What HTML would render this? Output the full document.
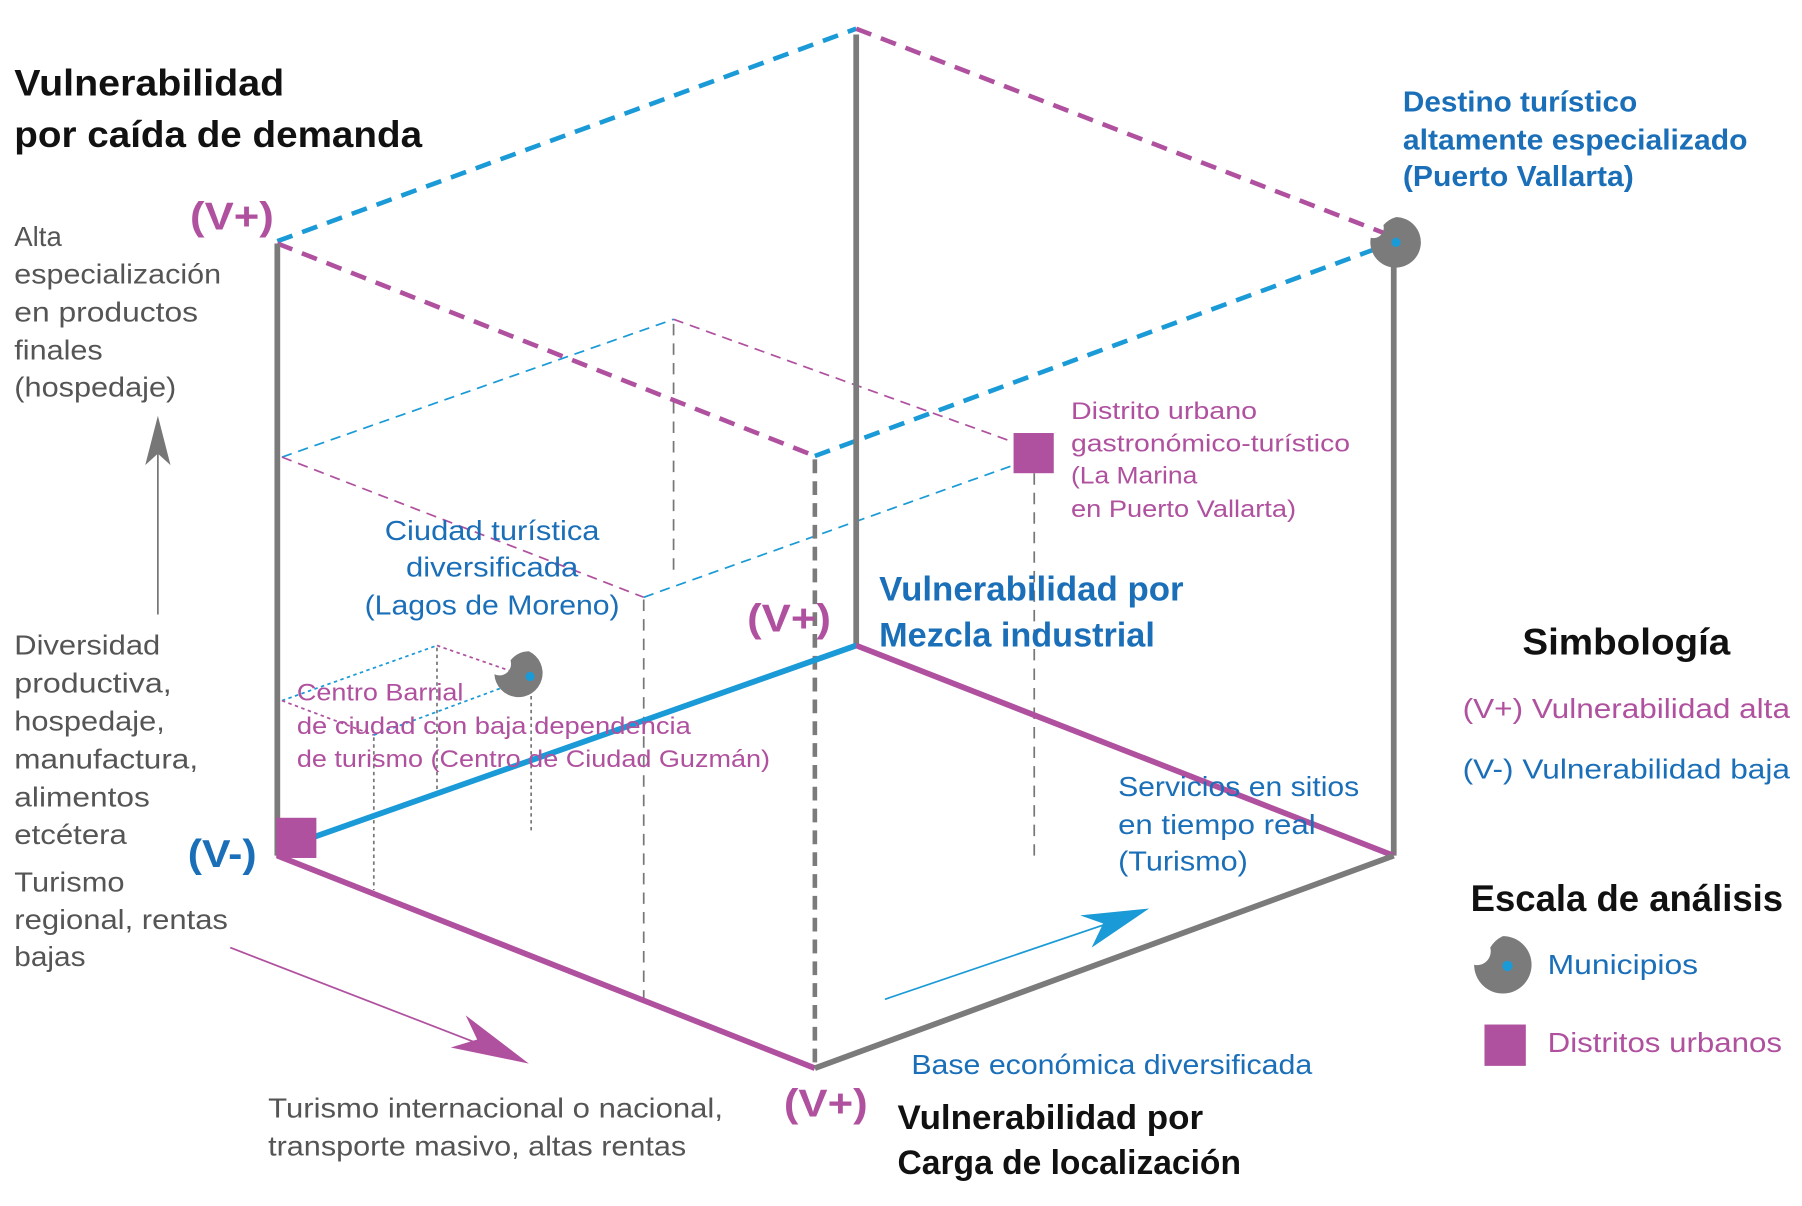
<!DOCTYPE html>
<html><head><meta charset="utf-8"><style>
html,body{margin:0;padding:0;background:#fff;}
svg{display:block;}
text{font-family:"Liberation Sans",sans-serif;}
.g{fill:#555;font-size:24px;}
.b{fill:#1a6fb8;font-size:24px;}
.m{fill:#b0519f;}
.k{fill:#111;font-weight:bold;}
</style></head><body>
<svg width="1802" height="1206" viewBox="0 0 1568 1050" xmlns="http://www.w3.org/2000/svg">
<g fill="none" stroke-linecap="butt">
<line x1="245" y1="398" x2="586" y2="278" stroke="#1a9ad6" stroke-width="1.5" stroke-dasharray="9,6"/>
<line x1="586" y1="278" x2="882" y2="385" stroke="#b0519f" stroke-width="1.5" stroke-dasharray="9,6"/>
<line x1="245" y1="398" x2="560" y2="520" stroke="#b0519f" stroke-width="1.5" stroke-dasharray="9,6"/>
<line x1="560" y1="520" x2="882" y2="405" stroke="#1a9ad6" stroke-width="1.5" stroke-dasharray="9,6"/>
<line x1="586" y1="282" x2="586" y2="500" stroke="#777" stroke-width="1.5" stroke-dasharray="10,7"/>
<line x1="560" y1="522" x2="560" y2="870" stroke="#777" stroke-width="1.5" stroke-dasharray="10,7"/>
<line x1="900" y1="412" x2="900" y2="745" stroke="#777" stroke-width="1.5" stroke-dasharray="10,7"/>
<line x1="245" y1="610" x2="380" y2="562" stroke="#1a9ad6" stroke-width="1.5" stroke-dasharray="3,3"/>
<line x1="380" y1="562" x2="455" y2="588" stroke="#b0519f" stroke-width="1.5" stroke-dasharray="3,3"/>
<line x1="245" y1="610" x2="325" y2="640" stroke="#b0519f" stroke-width="1.5" stroke-dasharray="3,3"/>
<line x1="325" y1="640" x2="455" y2="592" stroke="#1a9ad6" stroke-width="1.5" stroke-dasharray="3,3"/>
<line x1="325" y1="642" x2="325" y2="775" stroke="#777" stroke-width="1.5" stroke-dasharray="3,3"/>
<line x1="380" y1="564" x2="380" y2="690" stroke="#777" stroke-width="1.5" stroke-dasharray="3,3"/>
<line x1="462" y1="600" x2="462" y2="725" stroke="#777" stroke-width="1.5" stroke-dasharray="3,3"/>
<line x1="241" y1="210" x2="745" y2="25" stroke="#1a9ad6" stroke-width="4" stroke-dasharray="14,9"/>
<line x1="745" y1="25" x2="1210" y2="205" stroke="#b0519f" stroke-width="4" stroke-dasharray="14,9"/>
<line x1="241" y1="212" x2="709" y2="397" stroke="#b0519f" stroke-width="4" stroke-dasharray="14,9"/>
<line x1="709" y1="397" x2="1210" y2="212" stroke="#1a9ad6" stroke-width="4" stroke-dasharray="14,9"/>
<line x1="745" y1="30" x2="745" y2="562" stroke="#7b7b7b" stroke-width="5"/>
<line x1="241" y1="212" x2="241" y2="745" stroke="#7b7b7b" stroke-width="5"/>
<line x1="1213" y1="215" x2="1213" y2="745" stroke="#7b7b7b" stroke-width="5"/>
<line x1="709" y1="400" x2="709" y2="930" stroke="#7b7b7b" stroke-width="4" stroke-dasharray="12,7"/>
<line x1="241" y1="740" x2="745" y2="562" stroke="#1a9ad6" stroke-width="5"/>
<line x1="745" y1="562" x2="1213" y2="745" stroke="#b0519f" stroke-width="5"/>
<line x1="241" y1="745" x2="709" y2="930" stroke="#b0519f" stroke-width="5"/>
<line x1="709" y1="930" x2="1213" y2="745" stroke="#7b7b7b" stroke-width="5"/>
<line x1="137" y1="535" x2="137" y2="385" stroke="#777" stroke-width="1.5"/>
<line x1="200" y1="825" x2="430" y2="914" stroke="#b0519f" stroke-width="1.5"/>
<line x1="770" y1="870" x2="970" y2="802" stroke="#1a9ad6" stroke-width="1.5"/>
</g>
<polygon points="137,362 148,405 137,395 126,405" fill="#777"/>
<polygon points="460,926 405,884 415,905 392,912" fill="#b0519f"/>
<polygon points="1000,791 940,797 960,804 950,825" fill="#1a9ad6"/>
<path d="M1215,189 a22,22 0 1 1 -22,18 a9,9 0 0 0 11,-11 a22,22 0 0 1 11,-7z" fill="#7b7b7b"/>
<circle cx="1215" cy="211" r="4" fill="#1a9ad6"/>
<path d="M460,567 a21,21 0 1 1 -30,20 a10,10 0 0 0 14,-12 a21,21 0 0 1 16,-8z" fill="#7b7b7b"/>
<circle cx="461" cy="589" r="4" fill="#1a9ad6"/>
<rect x="240" y="712" width="35" height="35" fill="#b0519f"/>
<rect x="882" y="377" width="35" height="35" fill="#b0519f"/>
<path d="M1308,815 a25,25 0 1 1 -25,25 a12,12 0 0 0 14,-15 a25,25 0 0 1 11,-10z" fill="#7b7b7b"/>
<circle cx="1312" cy="841" r="4.5" fill="#1a9ad6"/>
<rect x="1292" y="892" width="36" height="36" fill="#b0519f"/>
<text class="k" x="12" y="83" font-size="32" textLength="235" lengthAdjust="spacingAndGlyphs">Vulnerabilidad</text>
<text class="k" x="12" y="128" font-size="32" textLength="355" lengthAdjust="spacingAndGlyphs">por caída de demanda</text>
<text class="m" x="165" y="200" font-size="34" font-weight="bold" textLength="73" lengthAdjust="spacingAndGlyphs">(V+)</text>
<g class="g">
<text x="12" y="214">Alta</text>
<text x="12" y="247" textLength="180" lengthAdjust="spacingAndGlyphs">especialización</text>
<text x="12" y="280" textLength="160" lengthAdjust="spacingAndGlyphs">en productos</text>
<text x="12" y="313" textLength="77" lengthAdjust="spacingAndGlyphs">finales</text>
<text x="12" y="345" textLength="141" lengthAdjust="spacingAndGlyphs">(hospedaje)</text>
<text x="12" y="570" textLength="127" lengthAdjust="spacingAndGlyphs">Diversidad</text>
<text x="12" y="603" textLength="137" lengthAdjust="spacingAndGlyphs">productiva,</text>
<text x="12" y="636" textLength="131" lengthAdjust="spacingAndGlyphs">hospedaje,</text>
<text x="12" y="669" textLength="160" lengthAdjust="spacingAndGlyphs">manufactura,</text>
<text x="12" y="702" textLength="118" lengthAdjust="spacingAndGlyphs">alimentos</text>
<text x="12" y="735" textLength="98" lengthAdjust="spacingAndGlyphs">etcétera</text>
<text x="12" y="776" textLength="96" lengthAdjust="spacingAndGlyphs">Turismo</text>
<text x="12" y="809" textLength="186" lengthAdjust="spacingAndGlyphs">regional, rentas</text>
<text x="12" y="841" textLength="62" lengthAdjust="spacingAndGlyphs">bajas</text>
<text x="233" y="973" textLength="396" lengthAdjust="spacingAndGlyphs">Turismo internacional o nacional,</text>
<text x="233" y="1006" textLength="364" lengthAdjust="spacingAndGlyphs">transporte masivo, altas rentas</text>
</g>
<text x="163" y="755" font-size="34" font-weight="bold" fill="#1a6fb8" textLength="60" lengthAdjust="spacingAndGlyphs">(V-)</text>
<g class="b" text-anchor="middle">
<text x="428" y="470" textLength="187" lengthAdjust="spacingAndGlyphs">Ciudad turística</text>
<text x="428" y="502" textLength="150" lengthAdjust="spacingAndGlyphs">diversificada</text>
<text x="428" y="535" textLength="222" lengthAdjust="spacingAndGlyphs">(Lagos de Moreno)</text>
</g>
<g class="m" font-size="21">
<text x="258" y="610" textLength="145" lengthAdjust="spacingAndGlyphs">Centro Barrial</text>
<text x="258" y="639" textLength="343" lengthAdjust="spacingAndGlyphs">de ciudad con baja dependencia</text>
<text x="258" y="668" textLength="412" lengthAdjust="spacingAndGlyphs">de turismo (Centro de Ciudad Guzmán)</text>
<text x="932" y="365" textLength="162" lengthAdjust="spacingAndGlyphs">Distrito urbano</text>
<text x="932" y="393" textLength="243" lengthAdjust="spacingAndGlyphs">gastronómico-turístico</text>
<text x="932" y="421" textLength="110" lengthAdjust="spacingAndGlyphs">(La Marina</text>
<text x="932" y="450" textLength="196" lengthAdjust="spacingAndGlyphs">en Puerto Vallarta)</text>
</g>
<text class="m" x="650" y="550" font-size="34" font-weight="bold" textLength="73" lengthAdjust="spacingAndGlyphs">(V+)</text>
<text x="765" y="523" font-size="30" font-weight="bold" fill="#1a6fb8" textLength="265" lengthAdjust="spacingAndGlyphs">Vulnerabilidad por</text>
<text x="765" y="563" font-size="30" font-weight="bold" fill="#1a6fb8" textLength="240" lengthAdjust="spacingAndGlyphs">Mezcla industrial</text>
<g font-size="25" font-weight="bold" fill="#1a6fb8">
<text x="1221" y="97" textLength="204" lengthAdjust="spacingAndGlyphs">Destino turístico</text>
<text x="1221" y="130" textLength="300" lengthAdjust="spacingAndGlyphs">altamente especializado</text>
<text x="1221" y="162" textLength="201" lengthAdjust="spacingAndGlyphs">(Puerto Vallarta)</text>
</g>
<g class="b">
<text x="973" y="693" textLength="210" lengthAdjust="spacingAndGlyphs">Servicios en sitios</text>
<text x="973" y="726" textLength="172" lengthAdjust="spacingAndGlyphs">en tiempo real</text>
<text x="973" y="758" textLength="113" lengthAdjust="spacingAndGlyphs">(Turismo)</text>
<text x="793" y="935" textLength="349" lengthAdjust="spacingAndGlyphs">Base económica diversificada</text>
<text x="1273" y="678" textLength="285" lengthAdjust="spacingAndGlyphs">(V-)  Vulnerabilidad baja</text>
<text x="1347" y="848" textLength="131" lengthAdjust="spacingAndGlyphs">Municipios</text>
</g>
<text class="m" x="682" y="972" font-size="34" font-weight="bold" textLength="73" lengthAdjust="spacingAndGlyphs">(V+)</text>
<text class="k" x="781" y="983" font-size="30" textLength="266" lengthAdjust="spacingAndGlyphs">Vulnerabilidad por</text>
<text class="k" x="781" y="1022" font-size="30" textLength="299" lengthAdjust="spacingAndGlyphs">Carga de localización</text>
<text class="k" x="1325" y="570" font-size="32" textLength="181" lengthAdjust="spacingAndGlyphs">Simbología</text>
<text class="m" x="1273" y="625" font-size="24" textLength="285" lengthAdjust="spacingAndGlyphs">(V+)  Vulnerabilidad alta</text>
<text class="k" x="1280" y="793" font-size="32" textLength="272" lengthAdjust="spacingAndGlyphs">Escala de análisis</text>
<text class="m" x="1347" y="916" font-size="24" textLength="204" lengthAdjust="spacingAndGlyphs">Distritos urbanos</text>
</svg>
</body></html>
